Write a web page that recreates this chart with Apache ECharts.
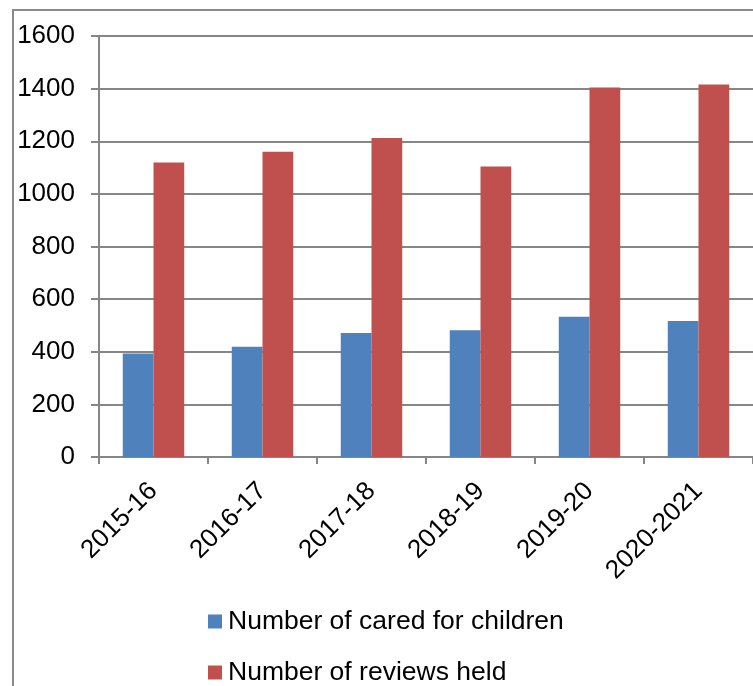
<!DOCTYPE html>
<html>
<head>
<meta charset="utf-8">
<script src="https://cdn.jsdelivr.net/npm/echarts@6/dist/echarts.min.js"></script>
<style>
html, body { margin: 0; padding: 0; background: #fff; }
#main { width: 753px; height: 686px; }
</style>
</head>
<body>
<div id="main"></div>
<script>
var years = ['2015-16', '2016-17', '2017-18', '2018-19', '2019-20', '2020-2021'];
var caredChildren = [393, 419, 471, 482, 533, 517];
var reviewsHeld = [1119, 1160, 1212, 1104, 1404, 1416];
var seriesNames = ['Number of cared for children', 'Number of reviews held'];

var font = 'Liberation Sans, Arial, sans-serif';
var gray = '#868686';

// one legend per row, stacked like the original
function legendRow(name, top) {
	return {
		left: 208,
		top: top,
		padding: 0,
		itemWidth: 14,
		itemHeight: 14,
		icon: 'rect',
		data: [name],
		textStyle: { fontFamily: font, fontSize: 26.5, color: '#000', padding: [0, 0, 0, 1] }
	};
}

var option = {
	animation: false,
	backgroundColor: '#fff',
	graphic: [
		{
			type: 'rect',
			shape: { x: 13, y: 10, width: 900, height: 900 },
			style: { fill: 'none', stroke: '#8a8a8a', lineWidth: 2 },
			silent: true
		}
	],
	grid: {
		left: 99,
		top: 36,
		right: -6,
		bottom: 229,
		containLabel: false
	},
	legend: [
		legendRow(seriesNames[0], 608),
		legendRow(seriesNames[1], 659)
	],
	xAxis: {
		type: 'category',
		data: years,
		axisLine: { lineStyle: { color: gray, width: 2 } },
		axisTick: { show: true, alignWithLabel: false, length: 7, lineStyle: { color: gray, width: 2 } },
		axisLabel: {
			rotate: 45,
			margin: 30,
			fontFamily: font,
			fontSize: 26,
			color: '#000'
		}
	},
	yAxis: {
		type: 'value',
		min: 0,
		max: 1600,
		interval: 200,
		axisLine: { show: true, lineStyle: { color: gray, width: 2 } },
		axisTick: { show: true, length: 8, lineStyle: { color: gray, width: 2 } },
		splitLine: { lineStyle: { color: gray, width: 2 } },
		axisLabel: {
			margin: 24,
			fontFamily: font,
			fontSize: 26,
			color: '#000',
			formatter: function (v) { return String(v); }
		}
	},
	series: [
		{
			name: seriesNames[0],
			type: 'bar',
			data: caredChildren,
			barGap: '0%',
			barCategoryGap: '43.6%',
			itemStyle: { color: '#4F81BD' }
		},
		{
			name: seriesNames[1],
			type: 'bar',
			data: reviewsHeld,
			barGap: '0%',
			barCategoryGap: '43.6%',
			itemStyle: { color: '#C0504D' }
		}
	]
};

var myChart = echarts.init(document.getElementById('main'));
myChart.setOption(option, true);
</script>
</body>
</html>
